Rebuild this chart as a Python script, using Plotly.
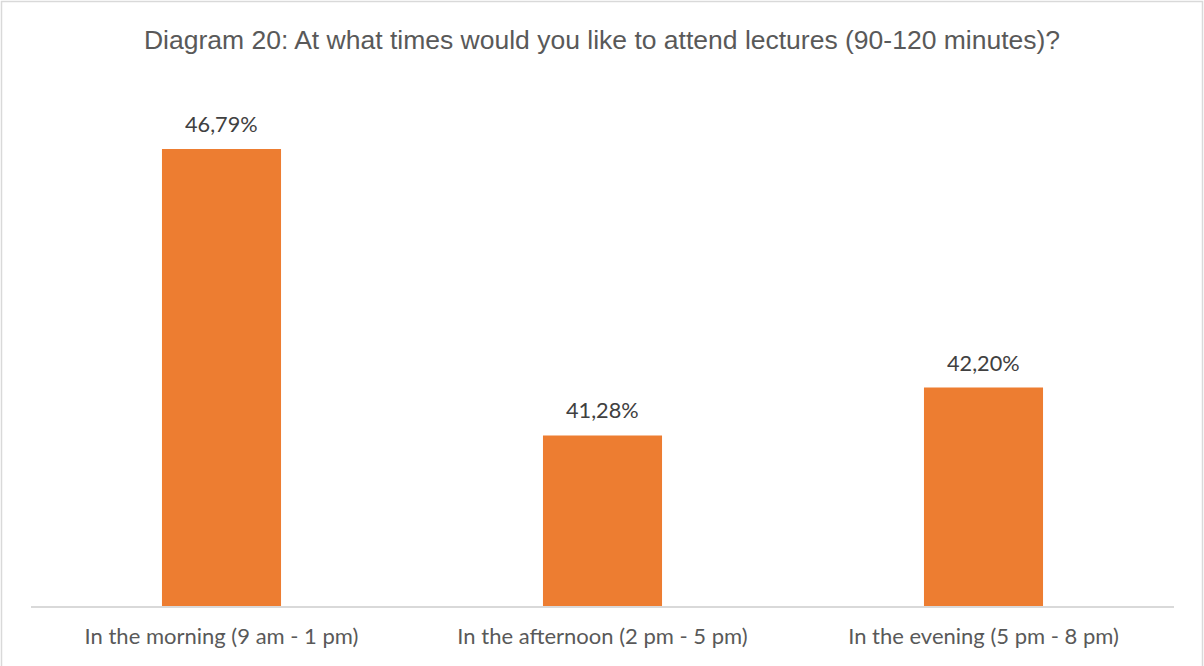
import plotly.graph_objects as go

# Survey results: preferred lecture times
categories = [
    "In the morning (9 am - 1 pm)",
    "In the afternoon (2 pm - 5 pm)",
    "In the evening (5 pm - 8 pm)",
]
shares = [46.79, 41.28, 42.20]
value_labels = ["46,79%", "41,28%", "42,20%"]

W, H = 1204, 666
ML, MR, MT, MB = 31, 30, 86, 60
plot_w = W - ML - MR
plot_h = H - MT - MB

LABEL_FONT = "Lato, 'Open Sans', sans-serif"

fig = go.Figure(
    go.Bar(
        x=categories,
        y=shares,
        marker=dict(color="#ED7D31", line=dict(width=0)),
        hoverinfo="skip",
    )
)

# value labels above each bar
for cat, val, lab in zip(categories, shares, value_labels):
    fig.add_annotation(
        x=cat, y=val, text=lab, showarrow=False,
        xanchor="center", yanchor="bottom", yshift=10,
        font=dict(family=LABEL_FONT, size=21.7, color="#404040"),
    )

# chart frame drawn in pixel terms converted to paper coordinates
def px_x(p):
    return (p - ML) / plot_w

def px_y(p):
    return (H - MB - p) / plot_h

fig.add_shape(
    type="rect", xref="paper", yref="paper",
    x0=px_x(1.5), x1=px_x(1202.5), y0=px_y(700), y1=px_y(1.5),
    line=dict(color="#D9D9D9", width=1.5), fillcolor="rgba(0,0,0,0)", layer="below",
)

fig.update_layout(
    width=W, height=H,
    margin=dict(l=ML, r=MR, t=MT, b=MB, pad=0),
    paper_bgcolor="white", plot_bgcolor="white",
    title=dict(
        text="Diagram 20: At what times would you like to attend lectures (90-120 minutes)?",
        x=0.5, xanchor="center", y=1 - 40 / H, yanchor="middle",
        font=dict(family="'Liberation Sans', Arial, sans-serif", size=26.5, color="#595959"),
    ),
    bargap=0.6875,
    showlegend=False,
    xaxis=dict(
        showgrid=False, zeroline=False, showline=True,
        linecolor="#D9D9D9", linewidth=1.5, ticks="",
        tickfont=dict(family=LABEL_FONT, size=22, color="#595959"),
        ticklabelstandoff=10,
    ),
    yaxis=dict(
        range=[38, 48], visible=False, showgrid=False, zeroline=False,
    ),
)

fig.write_html("out.html")
